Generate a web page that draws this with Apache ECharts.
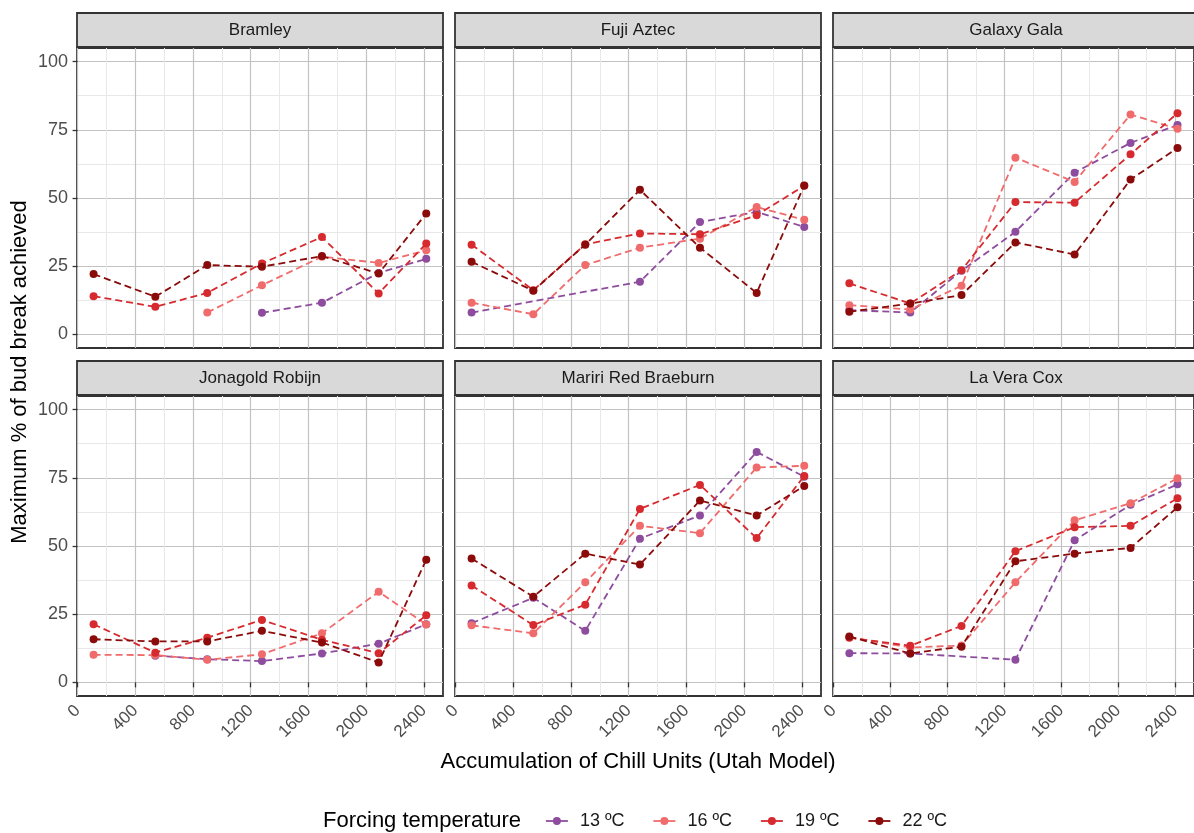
<!DOCTYPE html>
<html>
<head>
<meta charset="utf-8">
<title>Bud break vs chill units</title>
<script src="https://cdn.jsdelivr.net/npm/echarts@6/dist/echarts.min.js"></script>
<style>
  html, body { margin: 0; padding: 0; background: #fff; }
  #main { width: 1194px; height: 833px; }
</style>
</head>
<body>
<div id="main"></div>
<script>
// x positions (chill units) shared by every cultivar
var chillUnits = [111, 539, 899, 1278, 1694, 2087, 2417];
var temps = ['13 ºC', '16 ºC', '19 ºC', '22 ºC'];
var cultivars = ['Bramley', 'Fuji Aztec', 'Galaxy Gala', 'Jonagold Robijn', 'Mariri Red Braeburn', 'La Vera Cox'];

// rows: 13, 16, 19, 22 ºC  (null = not measured)
var bramley = [
  [null, null, null, 7.9, 11.6, 22.5, 27.7],
  [null, null, 8.0, 18.0, 28.5, 26.2, 30.8],
  [14.0, 10.1, 15.2, 26.0, 35.7, 15.0, 33.3],
  [22.1, 13.8, 25.4, 24.8, 28.7, 22.3, 44.3]
];
var fujiAztec = [
  [8.0, null, null, 19.3, 41.2, 44.9, 39.4],
  [11.6, 7.4, 25.4, 31.8, 35.1, 46.7, 42.0],
  [32.9, 16.2, 33.0, 37.0, 36.7, 43.7, 54.5],
  [26.6, 16.0, 32.9, 53.0, 31.8, 15.2, 54.6]
];
var galaxyGala = [
  [8.9, 8.0, 23.3, 37.6, 59.3, 70.2, 76.8],
  [10.7, 9.1, 17.8, 64.8, 55.9, 80.6, 75.4],
  [18.7, 11.3, 23.5, 48.5, 48.3, 66.0, 81.1],
  [8.3, 11.3, 14.4, 33.7, 29.3, 56.8, 68.3]
];
var jonagoldRobijn = [
  [null, 9.8, 8.5, 7.8, 10.6, 14.2, 21.3],
  [10.1, 10.0, 8.3, 10.3, 18.0, 33.2, 21.2],
  [21.3, 10.9, 16.4, 22.9, 15.6, 10.7, 24.6],
  [15.8, 15.0, 15.0, 18.9, 14.6, 7.3, 45.0]
];
var maririRedBraeburn = [
  [21.7, 31.0, 18.9, 52.7, 61.2, 84.5, 75.4],
  [20.9, 18.0, 36.7, 57.4, 54.7, 78.8, 79.4],
  [35.5, 21.0, 28.5, 63.6, 72.4, 52.9, 75.7],
  [45.4, 31.4, 47.2, 43.2, 66.7, 61.2, 72.0]
];
var laVeraCox = [
  [10.7, 10.6, null, 8.3, 52.1, 65.1, 72.6],
  [16.5, 12.8, 13.5, 36.7, 59.4, 65.7, 74.8],
  [16.4, 13.4, 20.7, 48.1, 56.9, 57.4, 67.5],
  [16.8, 10.6, 13.1, 44.4, 47.2, 49.3, 64.2]
];
var panelData = [bramley, fujiAztec, galaxyGala, jonagoldRobijn, maririRedBraeburn, laVeraCox];

var xTicks = [0, 400, 800, 1200, 1600, 2000, 2400];
var xMinor = [200, 600, 1000, 1400, 1800, 2200];
var yTicks = [0, 25, 50, 75, 100];
var yMinor = [12.5, 37.5, 62.5, 87.5];

var colors = ['#8e4c9e', '#f06b6b', '#d62a2e', '#8b0b0b'];
var font = 'Liberation Sans, Arial, sans-serif';

var colLeft = [77, 455, 833];
var rowTop = [48, 396];
var panelW = 366, panelH = 300, stripH = 35;

var myChart = echarts.init(document.getElementById('main'));

var grids = [], xAxes = [], yAxes = [], series = [], graphics = [];

for (var p = 0; p < 6; p++) {
  var col = p % 3, row = Math.floor(p / 3);
  var gx = colLeft[col], gy = rowTop[row];
  grids.push({
    left: gx, top: gy, width: panelW, height: panelH,
    show: true, borderColor: '#333', borderWidth: 1.8, backgroundColor: 'transparent'
  });
  // major x
  xAxes.push({
    type: 'value', gridIndex: p, min: -4, max: 2533,
    axisLine: { show: false },
    axisTick: { show: row === 1, customValues: xTicks, length: 5, lineStyle: { color: '#333', width: 1.3 } },
    axisLabel: {
      show: row === 1, customValues: xTicks, rotate: 45, margin: 12,
      fontSize: 17, color: '#4d4d4d', fontFamily: font,
      formatter: function (v) { return String(v); }
    },
    splitLine: { show: true, lineStyle: { color: '#c2c2c2', width: 1.2 } }
  });
  // minor x
  xAxes.push({
    type: 'value', gridIndex: p, min: -4, max: 2533,
    axisLine: { show: false }, axisLabel: { show: false },
    axisTick: { show: false, customValues: xMinor },
    splitLine: { show: true, lineStyle: { color: '#e8e8e8', width: 1 } }
  });
  // major y
  yAxes.push({
    type: 'value', gridIndex: p, min: -5, max: 105,
    axisLine: { show: false },
    axisTick: { show: col === 0, customValues: yTicks, length: 5, lineStyle: { color: '#333', width: 1.3 } },
    axisLabel: {
      show: col === 0, customValues: yTicks, margin: 9,
      fontSize: 18, color: '#4d4d4d', fontFamily: font
    },
    splitLine: { show: true, lineStyle: { color: '#c2c2c2', width: 1.2 } }
  });
  // minor y
  yAxes.push({
    type: 'value', gridIndex: p, min: -5, max: 105,
    axisLine: { show: false }, axisLabel: { show: false },
    axisTick: { show: false, customValues: yMinor },
    splitLine: { show: true, lineStyle: { color: '#e8e8e8', width: 1 } }
  });

  for (var t = 0; t < 4; t++) {
    var vals = panelData[p][t];
    var pts = [];
    for (var k = 0; k < chillUnits.length; k++) {
      if (vals[k] !== null) pts.push([chillUnits[k], vals[k]]);
    }
    series.push({
      type: 'line', name: temps[t], xAxisIndex: 2 * p, yAxisIndex: 2 * p,
      data: pts,
      symbol: 'circle', symbolSize: 8, showAllSymbol: true,
      lineStyle: { type: [7, 4], width: 1.8, color: colors[t] },
      itemStyle: { color: colors[t] },
      z: 3 + t
    });
  }

  // facet strip
  graphics.push({
    type: 'rect', shape: { x: gx, y: gy - stripH, width: panelW, height: stripH - 1 },
    style: { fill: '#d9d9d9', stroke: '#333', lineWidth: 1.8 }
  });
  graphics.push({
    type: 'text', x: gx + panelW / 2, y: gy - stripH / 2 - 0.5,
    style: { text: cultivars[p], align: 'center', verticalAlign: 'middle', fontSize: 17, fontFamily: font, fill: '#1a1a1a' }
  });
}

graphics.push({
  type: 'text', x: 638, y: 762,
  style: { text: 'Accumulation of Chill Units (Utah Model)', align: 'center', verticalAlign: 'middle', fontSize: 22, fontFamily: font, fill: '#000' }
});
graphics.push({
  type: 'text', x: 20, y: 372, rotation: Math.PI / 2,
  style: { text: 'Maximum % of bud break achieved', align: 'center', verticalAlign: 'middle', fontSize: 22, fontFamily: font, fill: '#000' }
});
graphics.push({
  type: 'text', x: 323, y: 821,
  style: { text: 'Forcing temperature', align: 'left', verticalAlign: 'middle', fontSize: 22, fontFamily: font, fill: '#000' }
});

myChart.setOption({
  animation: false,
  grid: grids,
  xAxis: xAxes,
  yAxis: yAxes,
  series: series,
  legend: {
    data: temps, left: 540, top: 807,
    itemWidth: 22, itemHeight: 10, itemGap: 28,
    lineStyle: { type: 'solid', width: 1.8 },
    textStyle: { fontSize: 18, color: '#1a1a1a', fontFamily: font, padding: [0, 0, 0, 7] }
  },
  graphic: graphics
});
</script>
</body>
</html>
